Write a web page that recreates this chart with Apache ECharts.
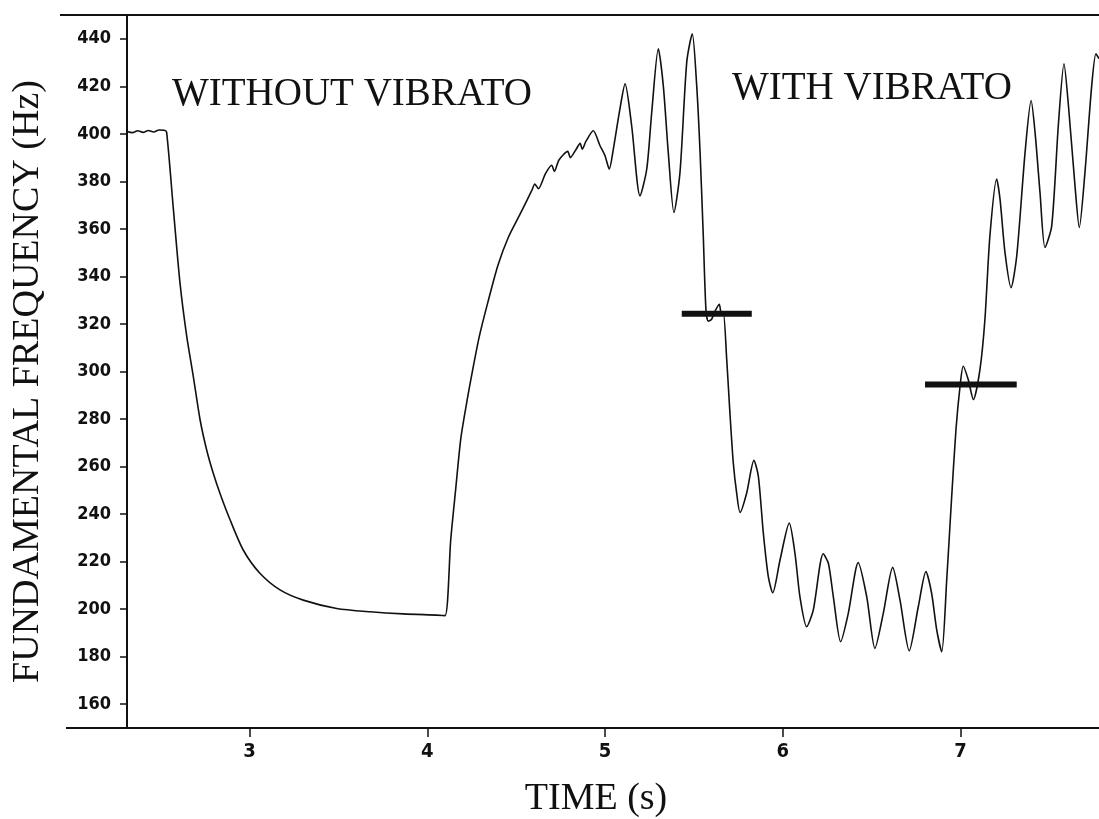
<!DOCTYPE html>
<html>
<head>
<meta charset="utf-8">
<script src="https://cdn.jsdelivr.net/npm/echarts@6/dist/echarts.min.js"></script>
<style>
  html, body { margin: 0; padding: 0; background: #fff; }
  #chart { width: 1099px; height: 819px; }
</style>
</head>
<body>
<div id="chart"></div>
<script>
// ---- data ----
const timeS = [
  2.31, 2.34, 2.37, 2.40, 2.43, 2.46, 2.49, 2.52, 2.533, 2.571,
  2.608, 2.646, 2.683, 2.721, 2.758, 2.795, 2.833, 2.890, 2.964, 3.058,
  3.171, 3.302, 3.490, 3.678, 3.865, 4.053, 4.100, 4.132, 4.160, 4.189,
  4.227, 4.255, 4.293, 4.341, 4.398, 4.455, 4.522, 4.588, 4.605, 4.625,
  4.665, 4.700, 4.715, 4.741, 4.790, 4.805, 4.836, 4.860, 4.872, 4.893,
  4.934, 4.972, 5.000, 5.024, 5.047, 5.084, 5.113, 5.150,
  5.197, 5.235, 5.263, 5.300, 5.328, 5.356, 5.388, 5.422, 5.460, 5.491,
  5.516, 5.535, 5.553, 5.568, 5.581, 5.600, 5.620, 5.643, 5.655, 5.666,
  5.685, 5.703, 5.722, 5.741, 5.760, 5.797, 5.838, 5.863, 5.891, 5.919,
  5.944, 5.985, 6.037, 6.069, 6.097, 6.135, 6.172, 6.228, 6.257, 6.285,
  6.326, 6.369, 6.425, 6.473, 6.519, 6.566, 6.619, 6.660, 6.712, 6.763,
  6.806, 6.838, 6.867, 6.895, 6.923, 6.951, 6.975, 6.998, 7.016, 7.044,
  7.073, 7.110, 7.138, 7.166, 7.204, 7.223, 7.251, 7.285, 7.317, 7.364,
  7.398, 7.420, 7.448, 7.476, 7.514, 7.551, 7.583, 7.608, 7.645, 7.669,
  7.701, 7.739, 7.763, 7.780
];
const freqHz = [
  401.0, 400.5, 401.3, 400.6, 401.4, 400.8, 401.6, 401.5, 400.7, 368.3,
  337.4, 314.9, 298.0, 279.8, 267.1, 257.3, 248.8, 237.6, 224.9, 215.1,
  208.1, 203.8, 200.3, 198.9, 198.0, 197.5, 197.3, 229.4, 250.7, 272.1,
  289.2, 300.6, 314.9, 329.2, 344.8, 356.3, 366.2, 376.2, 378.9, 376.9,
  383.3, 386.8, 384.2, 389.0, 392.6, 390.0, 393.3, 396.0, 393.5, 396.9,
  401.3, 395.0, 390.8, 385.2, 393.6, 410.5, 421.0, 403.4,
  373.9, 385.2, 409.1, 435.8, 420.3, 392.2, 366.9, 383.8, 430.2, 442.1,
  420.3, 392.2, 357.1, 326.1, 321.2, 322.0, 325.5, 328.3, 324.0, 324.7,
  305.0, 282.6, 261.5, 248.8, 240.7, 248.8, 262.6, 255.9, 232.0, 213.7,
  206.9, 220.7, 236.2, 223.5, 205.2, 192.6, 199.6, 223.3, 219.3, 205.2,
  186.3, 198.2, 219.6, 205.2, 183.5, 198.2, 217.6, 203.9, 182.5, 201.0,
  215.8, 206.7, 191.2, 182.1, 212.3, 247.4, 275.5, 293.8, 302.2, 296.6,
  288.2, 300.8, 321.9, 357.0, 381.0, 372.5, 350.0, 335.3, 348.6, 392.2,
  414.0, 400.7, 375.3, 352.2, 361.3, 403.4, 429.5, 411.9, 378.1, 360.6,
  383.8, 420.3, 433.7, 431.6
];
// horizontal reference bars (mean pitch)
const barStartS = [5.432, 6.801];
const barEndS   = [5.826, 7.317];
const barHz     = [324.3, 294.5];

const xTicks = [3, 4, 5, 6, 7];
const yTicks = [160, 180, 200, 220, 240, 260, 280, 300, 320, 340, 360, 380, 400, 420, 440];
const xRange = [2.31, 7.78];
const yRange = [150, 450];
const annotations = ['WITHOUT VIBRATO', 'WITH VIBRATO'];
const xTitle = 'TIME (s)';
const yTitle = 'FUNDAMENTAL FREQUENCY (Hz)';

// ---- chart ----
const ink = '#111';
const serif = '"Liberation Serif", "Times New Roman", serif';
const tickFont = '"Liberation Sans Narrow", "DejaVu Sans Condensed", "DejaVu Sans", sans-serif';

const curve = timeS.map((t, i) => [t, freqHz[i]]);
const barSeries = barHz.map((hz, i) => ({
  type: 'line',
  data: [[barStartS[i], hz], [barEndS[i], hz]],
  symbol: 'none',
  lineStyle: { color: ink, width: 6 },
  silent: true,
  z: 3
}));

const chart = echarts.init(document.getElementById('chart'), null, { renderer: 'canvas' });
chart.setOption({
  animation: false,
  backgroundColor: '#fff',
  grid: { left: 127, right: 0, top: 15, bottom: 91, outerBoundsMode: 'none' },
  xAxis: [{
    type: 'value',
    min: xRange[0], max: xRange[1],
    position: 'bottom',
    axisLine: { lineStyle: { color: ink, width: 2 } },
    axisTick: { show: true, length: 9, customValues: xTicks, lineStyle: { color: ink, width: 1.5 } },
    axisLabel: { customValues: xTicks, margin: 14, color: ink, fontFamily: tickFont, fontWeight: 'bold', fontSize: 20 },
    splitLine: { show: false },
    name: xTitle,
    nameLocation: 'middle',
    nameGap: 52,
    nameTextStyle: { fontFamily: serif, fontSize: 38, color: ink, padding: [0, 34, 0, 0] }
  }, {
    type: 'value',
    min: xRange[0], max: xRange[1],
    position: 'top',
    axisLine: { show: true, lineStyle: { color: ink, width: 2 } },
    axisTick: { show: false },
    axisLabel: { show: false },
    splitLine: { show: false }
  }],
  yAxis: {
    type: 'value',
    min: yRange[0], max: yRange[1],
    axisLine: { show: true, lineStyle: { color: ink, width: 2 } },
    axisTick: { show: true, length: 7, customValues: yTicks, lineStyle: { color: ink, width: 1.5 } },
    axisLabel: { customValues: yTicks, margin: 16, color: ink, fontFamily: tickFont, fontWeight: 'bold', fontSize: 18 },
    splitLine: { show: false },
    name: yTitle,
    nameLocation: 'middle',
    nameGap: 80,
    nameTextStyle: { fontFamily: serif, fontSize: 38, color: ink, padding: [0, 20, 0, 0] }
  },
  graphic: [
    { type: 'line', shape: { x1: 60, y1: 15, x2: 127, y2: 15 }, style: { stroke: ink, lineWidth: 2 }, silent: true },
    { type: 'line', shape: { x1: 66, y1: 728, x2: 127, y2: 728 }, style: { stroke: ink, lineWidth: 2 }, silent: true },
    { type: 'text', left: 172, top: 75, style: { text: annotations[0], font: '39px ' + serif, fill: ink } },
    { type: 'text', left: 732, top: 69, style: { text: annotations[1], font: '39px ' + serif, fill: ink } }
  ],
  series: [{
    type: 'line',
    data: curve,
    symbol: 'none',
    smooth: 0.25,
    lineStyle: { color: ink, width: 1.6 },
    silent: true,
    z: 2
  }].concat(barSeries)
});
</script>
</body>
</html>
